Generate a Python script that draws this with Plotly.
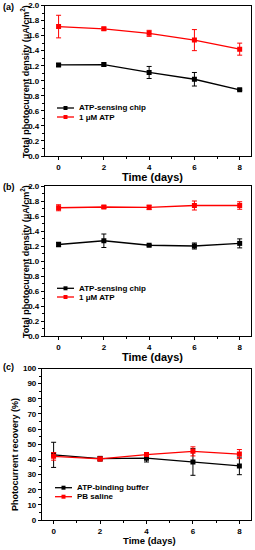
import plotly.graph_objects as go

days = [0, 2, 4, 6, 8]

# Panel (a)
a_chip = [1.21, 1.215, 1.11, 1.02, 0.88]
a_chip_err = [0.02, 0.02, 0.08, 0.09, 0.01]
a_atp = [1.72, 1.69, 1.63, 1.54, 1.42]
a_atp_err = [0.15, 0.02, 0.04, 0.14, 0.08]

# Panel (b)
b_chip = [1.22, 1.27, 1.21, 1.20, 1.235]
b_chip_err = [0.03, 0.09, 0.01, 0.04, 0.06]
b_atp = [1.71, 1.72, 1.715, 1.74, 1.74]
b_atp_err = [0.04, 0.02, 0.03, 0.06, 0.05]

# Panel (c)
c_buf = [43.0, 40.5, 40.8, 38.3, 35.7]
c_buf_err = [8.3, 1.5, 2.5, 8.8, 5.8]
c_pb = [42.0, 40.3, 43.2, 45.3, 43.5]
c_pb_err = [2.5, 1.2, 1.3, 3.0, 3.0]

BLACK = "#000000"
RED = "#ff0000"
FONT = "Liberation Sans"
W, H = 255, 550


def px(x):
    return x / W


def py(y):
    return 1 - y / H


fig = go.Figure()


def add_series(xa, ya, vals, errs, color):
    fig.add_trace(go.Scatter(
        x=days, y=vals, xaxis=xa, yaxis=ya, mode="lines+markers",
        line=dict(color=color, width=1.3),
        marker=dict(symbol="square", size=5, color=color),
        error_y=dict(type="data", array=errs, color=color, thickness=1, width=2.5),
        showlegend=False,
    ))


add_series("x", "y", a_chip, a_chip_err, BLACK)
add_series("x", "y", a_atp, a_atp_err, RED)
add_series("x2", "y2", b_chip, b_chip_err, BLACK)
add_series("x2", "y2", b_atp, b_atp_err, RED)
add_series("x3", "y3", c_buf, c_buf_err, BLACK)
add_series("x3", "y3", c_pb, c_pb_err, RED)

tickfont = dict(family=FONT, size=8, color="black", weight="bold")
common_axis = dict(showline=True, linewidth=1.2, linecolor="black", mirror=True,
                   ticks="outside", ticklen=3, tickwidth=1, tickcolor="black",
                   showgrid=False, zeroline=False, tickfont=tickfont, automargin=False)

xdom_ab = [px(45), px(251)]
xdom_c = [px(42), px(251)]

fig.update_layout(
    width=W, height=H, margin=dict(l=0, r=0, t=0, b=0, autoexpand=False),
    paper_bgcolor="white", plot_bgcolor="white", showlegend=False,
    xaxis=dict(domain=xdom_ab, anchor="y", range=[-0.6, 8.5], tickvals=days,
               minor=dict(ticks="outside", ticklen=2, dtick=1, tickcolor="black"), **common_axis),
    yaxis=dict(domain=[py(156), py(5.5)], anchor="x", range=[0, 2.0], dtick=0.2, tickformat=".1f",
               minor=dict(ticks="outside", ticklen=2, dtick=0.1, tickcolor="black"), **common_axis),
    xaxis2=dict(domain=xdom_ab, anchor="y2", range=[-0.6, 8.5], tickvals=days,
                minor=dict(ticks="outside", ticklen=2, dtick=1, tickcolor="black"), **common_axis),
    yaxis2=dict(domain=[py(336), py(186)], anchor="x2", range=[0, 2.0], dtick=0.2, tickformat=".1f",
                minor=dict(ticks="outside", ticklen=2, dtick=0.1, tickcolor="black"), **common_axis),
    xaxis3=dict(domain=xdom_c, anchor="y3", range=[-0.5, 8.5], tickvals=days,
                minor=dict(ticks="outside", ticklen=2, dtick=1, tickcolor="black"), **common_axis),
    yaxis3=dict(domain=[py(520), py(368.5)], anchor="x3", range=[0, 100], dtick=10,
                minor=dict(ticks="outside", ticklen=2, dtick=5, tickcolor="black"), **common_axis),
)

ann = []


def text(x, y, s, size, angle=0, xanchor="center"):
    ann.append(dict(x=px(x), y=py(y), xref="paper", yref="paper", text=s, showarrow=False,
                    textangle=angle, xanchor=xanchor, yanchor="middle",
                    font=dict(family=FONT, size=size, color="black", weight="bold")))


# panel labels
text(8.5, 7, "(a)", 9)
text(8.5, 187, "(b)", 9)
text(8.5, 367, "(c)", 9)

# axis titles
text(152, 176.5, "Time (days)", 11)
text(152, 356.5, "Time (days)", 11)
text(149, 540.5, "Time (days)", 9.5)
text(25, 82, "Total photocurrent density (μA/cm<sup>2</sup>)", 9, angle=-90)
text(25, 262, "Total photocurrent density (μA/cm<sup>2</sup>)", 9, angle=-90)
text(15, 455, "Photocurrent recovery (%)", 9, angle=-90)

shapes = []


def legend_item(x0, x1, y, color, label):
    shapes.append(dict(type="line", xref="paper", yref="paper", x0=px(x0), x1=px(x1),
                       y0=py(y), y1=py(y), line=dict(color=color, width=1.3)))
    cx = (x0 + x1) / 2
    shapes.append(dict(type="rect", xref="paper", yref="paper", x0=px(cx - 2), x1=px(cx + 2),
                       y0=py(y + 2), y1=py(y - 2), fillcolor=color, line=dict(width=0)))
    text(x1 + 2.5, y, label, 8, xanchor="left")


legend_item(57, 74, 108, BLACK, "ATP-sensing chip")
legend_item(57, 74, 117, RED, "1 μM ATP")
legend_item(57, 74, 288.3, BLACK, "ATP-sensing chip")
legend_item(57, 74, 297, RED, "1 μM ATP")
legend_item(55, 72, 487.7, BLACK, "ATP-binding buffer")
legend_item(55, 72, 496.7, RED, "PB saline")

fig.update_layout(annotations=ann, shapes=shapes)
fig.write_html("out.html", config={"responsive": False, "displayModeBar": False},
               post_script="document.body.style.margin='0';document.body.style.overflow='hidden';")
